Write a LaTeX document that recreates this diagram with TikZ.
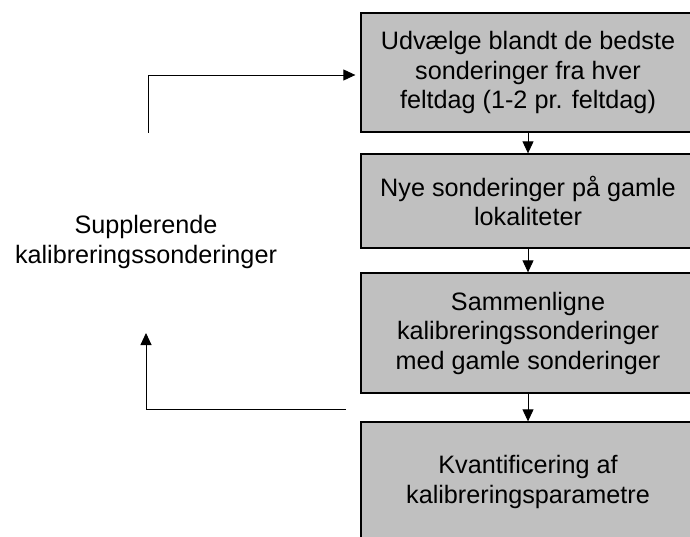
\documentclass[tikz,border=0pt]{standalone}
\usepackage{fontspec}
\setmainfont{Liberation Sans}
\usetikzlibrary{arrows.meta}
\definecolor{boxgray}{RGB}{192,192,192}
\begin{document}
\begin{tikzpicture}[x=1pt,y=-1pt,
  stepbox/.style={draw=black,line width=1.3pt,fill=boxgray,minimum width=334pt,inner sep=0pt,align=center,font=\fontsize{25.2}{29.5}\selectfont},
  conn/.style={line width=0.9pt,-{Triangle[width=11pt,length=12pt]}},
  lbl/.style={align=center,font=\fontsize{25.2}{30}\selectfont}]
\useasboundingbox (0,0) rectangle (690,537);
\node[stepbox,minimum height=119pt] (b1) at (528,72.5) {Udvælge blandt de bedste\\sonderinger fra hver\\feltdag (1-2 pr. feltdag)};
\node[stepbox,minimum height=94pt] (b2) at (528,201) {Nye sonderinger på gamle\\lokaliteter};
\node[stepbox,minimum height=120pt] (b3) at (528,333) {Sammenligne\\kalibreringssonderinger\\med gamle sonderinger};
\node[stepbox,minimum height=120pt] (b4) at (528,482) {Kvantificering af\\kalibreringsparametre};
\node[lbl] (lab) at (146,242) {Supplerende\\kalibreringssonderinger};
\draw[conn] (b1) -- (b2);
\draw[conn] (b2) -- (b3);
\draw[conn] (b3) -- (b4);
\coordinate (t0) at (148,133);
\coordinate (tc) at (148,75);
\draw[conn,shorten >=5pt] (t0) -- (tc) -- (tc -| b1.west);
\coordinate (u0) at (346,409);
\coordinate (u1) at (146,333);
\draw[conn] (u0) -| (u1);
\end{tikzpicture}
\end{document}
